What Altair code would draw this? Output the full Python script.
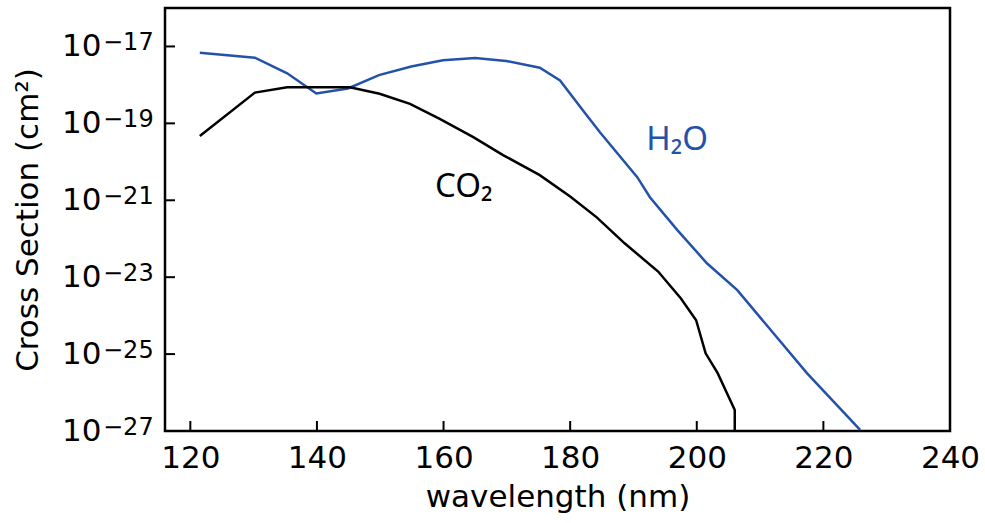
import altair as alt
import pandas as pd

# H2O cross section
h2o_wl = [121.5, 130.2, 135.3, 139.9, 144.9, 149.8, 154.9, 159.9, 165.0, 169.9,
          175.2, 178.4, 182.0, 184.7, 190.6, 192.6, 196.9, 201.6, 206.4, 217.4, 225.8]
h2o_xs = [6.9e-18, 5.1e-18, 2.0e-18, 6.0e-19, 8.1e-19, 1.8e-18, 3.0e-18, 4.4e-18, 5.0e-18, 4.2e-18,
          2.8e-18, 1.3e-18, 2.2e-19, 5.9e-20, 4.0e-21, 1.2e-21, 1.7e-22, 2.3e-23, 4.6e-24, 3.2e-26, 1.07e-27]

# CO2 cross section
co2_wl = [121.5, 130.2, 135.3, 145.2, 149.9, 154.7, 159.4, 164.7, 169.4, 175.2,
          180.0, 184.2, 188.6, 193.9, 197.5, 199.9, 201.4, 203.3, 206.0, 206.0]
co2_xs = [4.7e-20, 6.3e-19, 8.7e-19, 8.7e-19, 5.9e-19, 3.2e-19, 1.3e-19, 4.4e-20, 1.5e-20, 4.5e-21,
          1.26e-21, 3.6e-22, 7.6e-23, 1.4e-23, 2.8e-24, 7.6e-25, 1.05e-25, 3.2e-26, 3.5e-27, 1.0e-27]

# labels
label_text = ["CO₂", "H₂O"]
label_x = [163.2, 196.9]
label_y = [1.2e-21, 2.0e-20]
label_color = ["#000000", "#2352a8"]

x_ticks = [120, 140, 160, 180, 200, 220, 240]
y_exps = [-17, -19, -21, -23, -25, -27]
y_exp_text = ["−17", "−19", "−21", "−23", "−25", "−27"]
y_ticks = [10.0 ** e for e in y_exps]

BLUE = "#2352a8"
FONT = "DejaVu Sans"

rows = []
for w, v in zip(h2o_wl, h2o_xs):
    rows.append({"wl": w, "xs": v, "gas": "H2O"})
for w, v in zip(co2_wl, co2_xs):
    rows.append({"wl": w, "xs": v, "gas": "CO2"})
df = pd.DataFrame(rows)
df["order"] = range(len(df))

lab = pd.DataFrame({"wl": label_x, "xs": label_y, "text": label_text, "color": label_color})
xt = pd.DataFrame({"wl": x_ticks})
yt = pd.DataFrame({"xs": y_ticks, "exp": y_exp_text})

xscale = alt.Scale(domain=[116, 240], nice=False, zero=False)
yscale = alt.Scale(type="log", domain=[1e-27, 1e-16], nice=False)

xaxis = alt.Axis(values=x_ticks, title="wavelength (nm)", grid=False, domain=False, ticks=False,
                 labelPadding=12, labelFont=FONT, labelFontSize=31, labelColor="black",
                 titleFont=FONT, titleFontSize=31, titleFontWeight="normal", titleColor="black",
                 titlePadding=9, labelFlush=False)
yaxis = alt.Axis(values=y_ticks, title="Cross Section (cm²)", grid=False, domain=False, ticks=False,
                 labelPadding=64, labelFont=FONT, labelFontSize=31, labelColor="black",
                 labelExpr="'10'", labelBaseline="middle",
                 titleFont=FONT, titleFontSize=31, titleFontWeight="normal", titleColor="black",
                 titlePadding=17, labelFlush=False)

lines = alt.Chart(df).mark_line(strokeWidth=2.5, clip=True).encode(
    x=alt.X("wl:Q", scale=xscale, axis=xaxis),
    y=alt.Y("xs:Q", scale=yscale, axis=yaxis),
    color=alt.Color("gas:N", scale=alt.Scale(domain=["H2O", "CO2"], range=[BLUE, "#000000"]), legend=None),
    order="order:Q",
)

texts = alt.Chart(lab).mark_text(font="Noto Sans", fontSize=33, baseline="alphabetic", align="center").encode(
    x=alt.X("wl:Q", scale=xscale),
    y=alt.Y("xs:Q", scale=yscale),
    text="text:N",
    color=alt.Color("color:N", scale=None),
)

xticks = alt.Chart(xt).mark_rule(color="black", strokeWidth=2).encode(
    x=alt.X("wl:Q", scale=xscale),
    y=alt.value(423), y2=alt.value(413),
)
yticks = alt.Chart(yt).mark_rule(color="black", strokeWidth=2).encode(
    y=alt.Y("xs:Q", scale=yscale),
    x=alt.value(0), x2=alt.value(10),
)
exps = alt.Chart(yt).mark_text(font=FONT, fontSize=24, align="left", baseline="alphabetic", dy=4, color="black").encode(
    y=alt.Y("xs:Q", scale=yscale),
    x=alt.value(-62),
    text="exp:N",
)

chart = alt.layer(lines, texts, xticks, yticks, exps).properties(
    width=785, height=423,
    autosize=alt.AutoSizeParams(type="none"),
    padding={"left": 165, "top": 8, "right": 35, "bottom": 92},
).configure(background="white").configure_view(stroke="black", strokeWidth=2.5)

chart.save("out.html", embed_options={"renderer": "svg", "actions": False})
